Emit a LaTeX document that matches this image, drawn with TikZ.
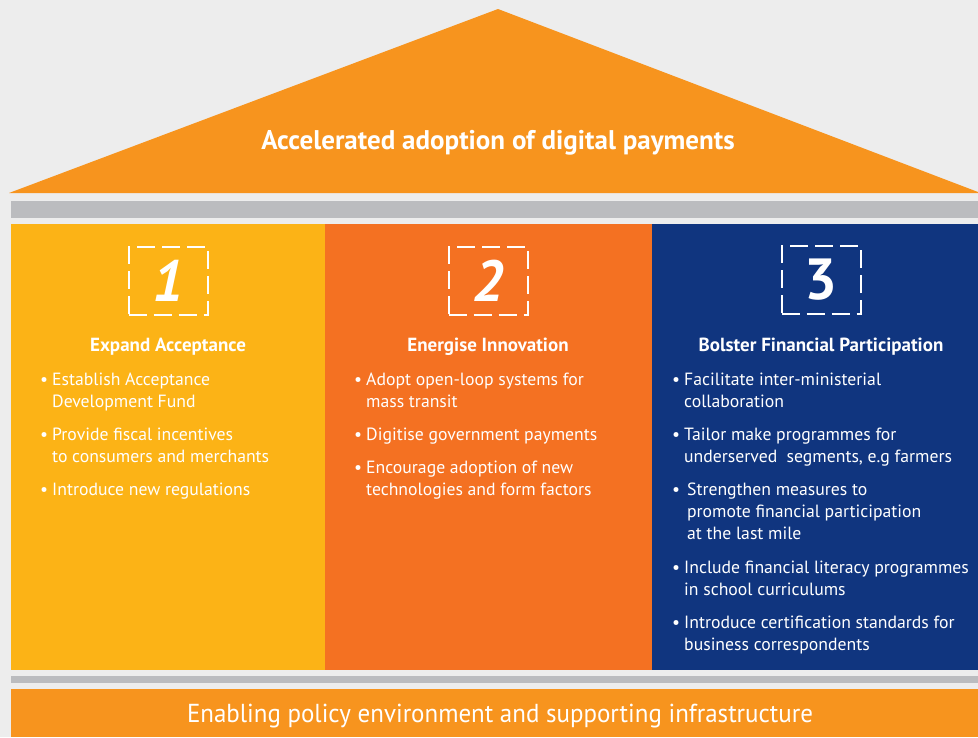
\documentclass[tikz,border=0pt]{standalone}
\usepackage{fontspec}
\setmainfont{PT Sans}
\usepackage{tikz}

\definecolor{paper}{HTML}{EDEDED}
\definecolor{roofor}{HTML}{F7941E}
\definecolor{beam}{HTML}{BBBCBF}
\definecolor{pillarA}{HTML}{FCB316}
\definecolor{pillarB}{HTML}{F47122}
\definecolor{pillarC}{HTML}{10357F}

\tikzset{
  numbox/.style={draw=white, line width=2pt, dash pattern=on 18pt off 7pt,
    minimum width=79pt, minimum height=68pt, inner sep=0pt, text=white,
    font=\bfseries\fontsize{58}{58}\selectfont},
  pillar title/.style={anchor=base, inner sep=0pt, text=white,
    font=\bfseries\fontsize{19}{22}\selectfont},
  point/.style={anchor=base west, inner sep=0pt, text=white,
    font=\fontsize{17.7}{22}\selectfont}
}
\newcommand{\bpoint}[1]{\makebox[12pt][l]{\textbullet}\begin{tabular}[t]{@{}l@{}}#1\end{tabular}}

\begin{document}
\begin{tikzpicture}[x=1pt, y=-1pt]
    \useasboundingbox (0,0) rectangle (978,737);
    \fill[paper] (0,0) rectangle (978,737);

    % roof, beams and pillars
    \fill[roofor] (9,193) -- (498,9) -- (978,192) -- (978,193) -- cycle;
    \fill[beam] (11,201) rectangle (978,218);
    \fill[pillarA] (11,224) rectangle (325,670);
    \fill[pillarB] (325,224) rectangle (652,670);
    \fill[pillarC] (652,224) rectangle (978,670);
    \fill[beam] (11,676) rectangle (978,683);
    \fill[roofor] (11,689) rectangle (978,737);

    \node[anchor=base, text=white, font=\bfseries\fontsize{27}{30}\selectfont] (goal)
        at (498,149) {Accelerated adoption of digital payments};
    \node[anchor=base, text=white, font=\fontsize{26}{30}\selectfont] (ground)
        at (500,722) {\scalebox{0.96}[1]{Enabling policy environment and supporting infrastructure}};

    \node[numbox] (n1) at (168,281) {\itshape 1};
    \node[numbox] (n2) at (488,281) {\itshape 2};
    \node[numbox] (n3) at (821,280) {3};

    \node[pillar title] (t1) at (168,351) {Expand Acceptance};
    \node[pillar title] (t2) at (488,351) {Energise Innovation};
    \node[pillar title] (t3) at (821,351) {Bolster Financial Participation};

    \node[point] (a1) at (40,385) {\bpoint{Establish Acceptance\\Development Fund}};
    \node[point] (a2) at (40,440) {\bpoint{Provide fiscal incentives\\to consumers and merchants}};
    \node[point] (a3) at (40,495) {\bpoint{Introduce new regulations}};

    \node[point] (b1) at (354,385) {\bpoint{Adopt open-loop systems for\\mass transit}};
    \node[point] (b2) at (354,440) {\bpoint{Digitise government payments}};
    \node[point] (b3) at (354,473) {\bpoint{Encourage adoption of new\\technologies and form factors}};

    \node[point] (c1) at (672,385) {\bpoint{Facilitate inter-ministerial\\collaboration}};
    \node[point] (c2) at (672,440) {\bpoint{Tailor make programmes for\\underserved\ \ segments, e.g farmers}};
    \node[point] (c3) at (672,495) {\bpoint{\,Strengthen measures to\\\,promote financial participation\\\,at the last mile}};
    \node[point] (c4) at (672,573) {\bpoint{Include financial literacy programmes\\in school curriculums}};
    \node[point] (c5) at (672,628) {\bpoint{Introduce certification standards for\\business correspondents}};
\end{tikzpicture}
\end{document}
